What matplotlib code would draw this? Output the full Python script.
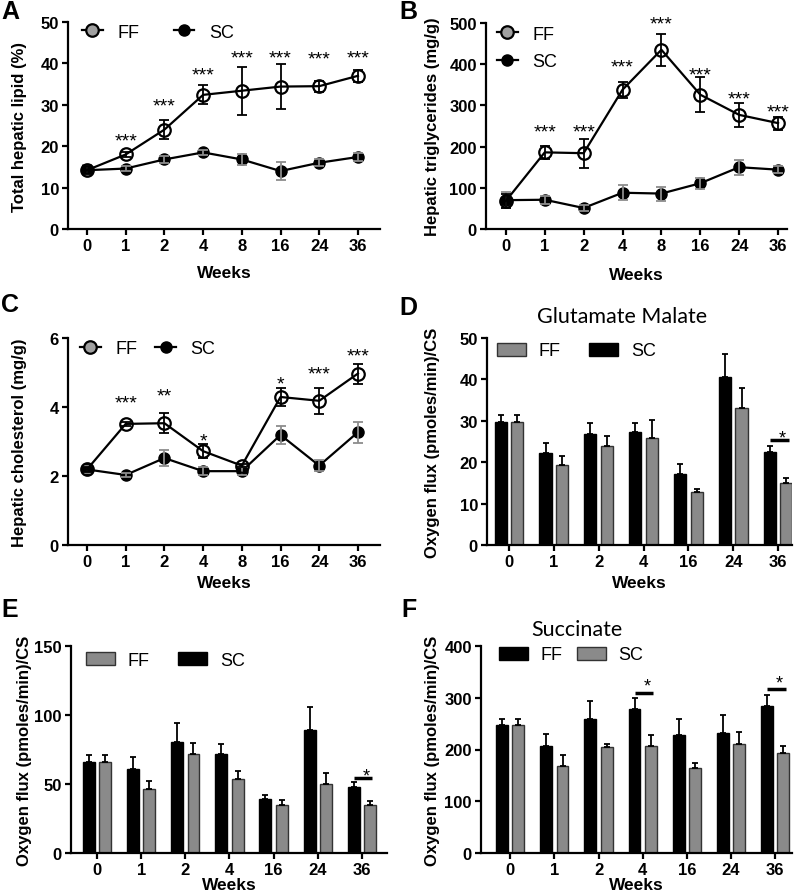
import numpy as np
import matplotlib
matplotlib.use('Agg')
import matplotlib.pyplot as plt
from matplotlib.lines import Line2D
from matplotlib.patches import Patch

plt.rcParams['font.family'] = ['Liberation Sans', 'DejaVu Sans']

# ---- data ----
weeks_line = ['0', '1', '2', '4', '8', '16', '24', '36']
weeks_bar = ['0', '1', '2', '4', '16', '24', '36']

# A - total hepatic lipid (%)
a_ff = [14.2, 18.0, 24.0, 32.4, 33.4, 34.4, 34.5, 37.0]
a_ff_err = [1.0, 0.6, 2.3, 2.3, 5.8, 5.4, 1.3, 1.5]
a_sc = [14.2, 14.6, 16.8, 18.5, 16.8, 14.0, 16.0, 17.4]
a_sc_err = [1.2, 0.6, 0.8, 0.6, 1.3, 2.1, 0.8, 1.0]
a_stars = ['', '***', '***', '***', '***', '***', '***', '***']
a_star_y = [0, 22.7, 31.0, 38.5, 42.7, 42.7, 42.5, 42.7]

# B - hepatic triglycerides (mg/g)
b_ff = [68, 186, 184, 338, 435, 326, 277, 257]
b_ff_err = [18, 16, 35, 20, 39, 42, 29, 16]
b_sc = [70, 71, 51, 88, 86, 111, 150, 144]
b_sc_err = [20, 10, 8, 18, 17, 14, 18, 8]
b_stars = ['', '***', '***', '***', '***', '***', '***', '***']
b_star_y = [0, 249, 249, 406, 511, 388, 329, 298]

# C - hepatic cholesterol (mg/g)
c_ff = [2.19, 3.51, 3.53, 2.72, 2.30, 4.29, 4.18, 4.97]
c_ff_err = [0.08, 0.05, 0.29, 0.20, 0.05, 0.27, 0.37, 0.29]
c_sc = [2.19, 2.03, 2.52, 2.14, 2.14, 3.19, 2.30, 3.27]
c_sc_err = [0.10, 0.06, 0.22, 0.12, 0.12, 0.26, 0.15, 0.30]
c_stars = ['', '***', '**', '*', '', '*', '***', '***']
c_star_y = [0, 4.29, 4.48, 3.18, 0, 4.82, 5.11, 5.64]

# D - glutamate malate
d_sc = [29.8, 22.3, 26.7, 27.3, 17.2, 40.5, 22.4]
d_sc_err = [1.6, 2.4, 2.8, 2.2, 2.3, 5.7, 1.6]
d_ff = [29.8, 19.3, 23.9, 25.8, 12.9, 33.2, 15.0]
d_ff_err = [1.6, 2.3, 2.5, 4.5, 0.6, 4.7, 1.3]

# E
e_sc = [66.3, 60.8, 80.5, 72.1, 39.1, 89.0, 47.5]
e_sc_err = [4.4, 8.9, 13.8, 6.8, 3.1, 16.6, 4.3]
e_ff = [66.3, 46.1, 72.1, 53.5, 34.7, 50.2, 34.7]
e_ff_err = [4.4, 6.2, 7.7, 6.1, 3.9, 7.9, 3.2]

# F - succinate
f_ff = [247.7, 207, 259, 278.7, 227.7, 231, 285]
f_ff_err = [11.3, 22, 35, 20, 30.3, 34.8, 19.5]
f_sc = [247.7, 169, 204.5, 205.8, 163.9, 210.3, 193.5]
f_sc_err = [11.3, 20, 5.5, 22.6, 9.1, 22.7, 14.2]

W, H = 799, 895
fig = plt.figure(figsize=(W / 100, H / 100), dpi=100)

GRAY = '#8a8a8a'


def add_ax(l, t, r, b):
    ax = fig.add_axes([l / W, 1 - b / H, (r - l) / W, (b - t) / H])
    ax.box_px = (l, t, r, b)
    return ax


def style(ax, ymax, ystep, xlabels, xlim, ylab, ylab_x, xlab_y):
    l, t, r, b = ax.box_px
    for s in ['top', 'right']:
        ax.spines[s].set_visible(False)
    for s in ['left', 'bottom']:
        ax.spines[s].set_linewidth(1.6)
    ax.set_ylim(0, ymax)
    ax.set_yticks(np.arange(0, ymax + ystep / 2, ystep))
    ax.set_xticks(range(len(xlabels)))
    ax.set_xticklabels(xlabels)
    ax.set_xlim(*xlim)
    ax.tick_params(width=1.6, length=4, labelsize=12, pad=2.5)
    for lab in ax.get_xticklabels() + ax.get_yticklabels():
        lab.set_fontweight('bold')
    ax.set_ylabel(ylab, fontsize=12, fontweight='bold')
    ax.yaxis.set_label_coords((ylab_x - l) / (r - l), 0.5)
    ax.set_xlabel('Weeks', fontsize=12.5, fontweight='bold')
    ax.xaxis.set_label_coords(0.5, (b - xlab_y) / (b - t))
    ax.xaxis.label.set_va('center')
    ax.yaxis.label.set_va('center')


def line_panel(ax, ff, ffe, sc, sce, stars, star_y):
    x = np.arange(len(ff))
    ax.plot(x, sc, color='black', lw=1.6, zorder=2)
    ax.plot(x, sc, 'o', ms=8, mfc='black', mec='black', zorder=3)
    ax.errorbar(x, sc, yerr=sce, fmt='none', ecolor='#8c8c8c', elinewidth=1.3,
                capsize=3.8, capthick=1.3, zorder=4)
    ax.plot(x, ff, color='black', lw=1.6, zorder=5)
    ax.errorbar(x, ff, yerr=ffe, fmt='none', ecolor='black', elinewidth=1.3,
                capsize=3.8, capthick=1.3, zorder=6)
    ax.plot(x, ff, 'o', ms=9, mfc='none', mec='black', mew=1.6, zorder=7)
    for i in range(len(stars)):
        if stars[i]:
            ax.annotate(stars[i], (x[i], star_y[i]), xytext=(0, -4),
                        textcoords='offset points', ha='center', va='center',
                        fontsize=14, annotation_clip=False)


def line_legend(ax, anchor, ncol, spacing=1.5):
    h = [Line2D([0], [0], color='black', lw=1.6, marker='o', ms=9, mfc='#a0a0a0',
                mec='black', mew=1.6, label='FF'),
         Line2D([0], [0], color='black', lw=1.6, marker='o', ms=8, mfc='black',
                mec='black', label='SC')]
    ax.legend(handles=h, loc='center left', bbox_to_anchor=(anchor[0] / W, 1 - anchor[1] / H),
              bbox_transform=fig.transFigure, ncol=ncol, frameon=False, fontsize=13,
              handlelength=1.15, handletextpad=0.8, columnspacing=spacing,
              borderpad=0, borderaxespad=0, labelspacing=0.6)


def bar_panel(ax, lv, le, lc, rv, re, rc):
    x = np.arange(len(lv))
    w = 0.27
    off = 0.185
    z = np.zeros(len(lv))
    ek = dict(elinewidth=1.3, capthick=1.3, ecolor='black')
    ax.bar(x - off, lv, w, color=lc, edgecolor='#333333' if lc != 'black' else 'black',
           lw=1, yerr=[z, le], capsize=2.3, error_kw=ek)
    ax.bar(x + off, rv, w, color=rc, edgecolor='#333333' if rc != 'black' else 'black',
           lw=1, yerr=[z, re], capsize=2.3, error_kw=ek)


def sig(ax, i, y_line, y_star):
    off = 0.185
    ax.plot([i - off, i + off + 0.05], [y_line, y_line], color='black', lw=2.5,
            solid_capstyle='butt')
    ax.annotate('*', (i + 0.1, y_star), xytext=(0, -4), textcoords='offset points',
                ha='center', va='center', fontsize=13)


def bar_legend(ax, anchor, first, spacing):
    pf = Patch(facecolor=GRAY, edgecolor='#333333', lw=1)
    pb = Patch(facecolor='black', edgecolor='black')
    h = [pf, pb] if first == 'gray' else [pb, pf]
    ax.legend(h, ['FF', 'SC'], loc='center left', bbox_to_anchor=(anchor[0] / W, 1 - anchor[1] / H),
              bbox_transform=fig.transFigure, ncol=2, frameon=False, fontsize=13,
              handlelength=1.6, handleheight=0.75, handletextpad=0.7, columnspacing=spacing,
              borderpad=0, borderaxespad=0)


# A
axA = add_ax(68, 23, 380, 230)
line_panel(axA, a_ff, a_ff_err, a_sc, a_sc_err, a_stars, a_star_y)
style(axA, 50, 10, weeks_line, (-0.49, 7.57), 'Total hepatic lipid (%)', 20, 274)
line_legend(axA, (82, 33), 2, 1.9)

# B
axB = add_ax(486, 24, 787, 230)
line_panel(axB, b_ff, b_ff_err, b_sc, b_sc_err, b_stars, b_star_y)
style(axB, 500, 100, weeks_line, (-0.51, 7.23), 'Hepatic triglycerides (mg/g)', 432, 276)
line_legend(axB, (497, 49), 1)

# C
axC = add_ax(68, 339, 380, 546)
line_panel(axC, c_ff, c_ff_err, c_sc, c_sc_err, c_stars, c_star_y)
style(axC, 6, 2, weeks_line, (-0.49, 7.57), 'Hepatic cholesterol (mg/g)', 20, 583)
line_legend(axC, (80, 350), 2, 1.0)

# D
axD = add_ax(487, 339, 792, 546)
bar_panel(axD, d_sc, d_sc_err, 'black', d_ff, d_ff_err, GRAY)
sig(axD, 6, 25.3, 27.3)
style(axD, 50, 10, weeks_bar, (-0.49, 6.31), 'Oxygen flux (pmoles/min)/CS', 432, 583)
bar_legend(axD, (497, 352), 'gray', 1.6)
fig.text(622 / W, 1 - 317 / H, 'Glutamate Malate', family=['Lato', 'DejaVu Sans'],
         fontsize=15.5, ha='center', va='center')

# E
axE = add_ax(71, 647, 387, 854)
bar_panel(axE, e_sc, e_sc_err, 'black', e_ff, e_ff_err, GRAY)
sig(axE, 6, 54.7, 59.6)
style(axE, 150, 50, weeks_bar, (-0.59, 6.57), 'Oxygen flux (pmoles/min)/CS', 25, 886)
bar_legend(axE, (86, 661), 'gray', 1.6)

# F
axF = add_ax(481, 647, 792, 854)
bar_panel(axF, f_ff, f_ff_err, 'black', f_sc, f_sc_err, GRAY)
sig(axF, 3, 310, 333)
sig(axF, 6, 316, 340)
style(axF, 400, 100, weeks_bar, (-0.66, 6.38), 'Oxygen flux (pmoles/min)/CS', 432, 886)
bar_legend(axF, (499, 656), 'black', 0.8)
fig.text(577 / W, 1 - 630 / H, 'Succinate', family=['Lato', 'DejaVu Sans'],
         fontsize=15.5, ha='center', va='center')

# panel letters
for lab, (px, py) in zip('ABCDEF', [(1, 0), (399, 0), (1, 293), (399, 296), (1, 598), (401, 598)]):
    fig.text(px / W, 1 - py / H, lab, fontsize=18, fontweight='bold', ha='left', va='top')

fig.savefig('out.png', dpi=100)
